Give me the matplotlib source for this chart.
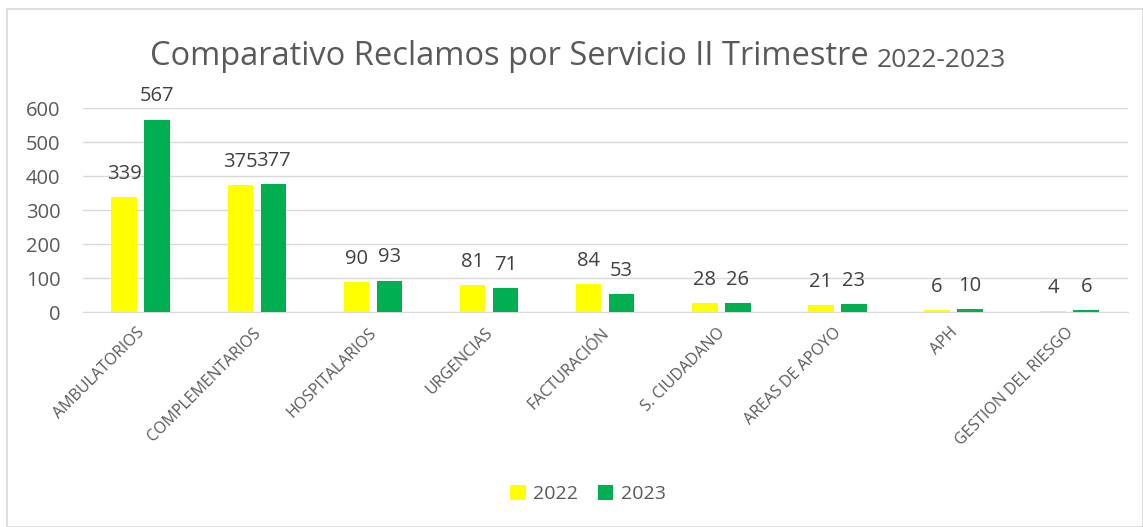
import numpy as np
import matplotlib.pyplot as plt
from matplotlib.patches import Rectangle
from matplotlib.transforms import ScaledTranslation

plt.rcParams['font.family'] = ['Open Sans', 'DejaVu Sans']

categories = ['AMBULATORIOS', 'COMPLEMENTARIOS', 'HOSPITALARIOS', 'URGENCIAS',
              'FACTURACIÓN', 'S. CIUDADANO', 'AREAS DE APOYO', 'APH',
              'GESTION DEL RIESGO']
vals_2022 = [339, 375, 90, 81, 84, 28, 21, 6, 4]
vals_2023 = [567, 377, 93, 71, 53, 26, 23, 10, 6]
series_names = ['2022', '2023']
colors = ['#FFFF00', '#00B050']
text_color = '#595959'

W, H = 1143, 527
fig = plt.figure(figsize=(W / 100, H / 100), dpi=100)
ax = fig.add_axes([82.7 / W, 1 - 312.3 / H, 1045 / W, 204 / H])

# chart border
fig.patches.append(Rectangle((7 / W, 0), (W - 7) / W, 1 - 9 / H,
                             transform=fig.transFigure, fill=False,
                             edgecolor='#d9d9d9', lw=1.2))

x = np.arange(len(categories))
w = 0.22
gap = 0.064
for i, (vals, name, c) in enumerate(zip([vals_2022, vals_2023], series_names, colors)):
    pos = x + (i - 0.5) * (w + gap)
    bars = ax.bar(pos, vals, w, color=c, label=name, zorder=3)
    for b, v in zip(bars, vals):
        ax.annotate(str(v), (b.get_x() + b.get_width() / 2, v), xytext=(0, 9.5),
                    textcoords='offset points', ha='center', va='bottom',
                    fontsize=14.5, color='#404040', annotation_clip=False)

ax.set_xlim(-0.5, len(categories) - 0.5)
ax.set_ylim(0, 600)
ax.set_yticks(range(0, 601, 100))
ax.yaxis.grid(True, color='#d9d9d9', lw=1, zorder=0)
for s in ['left', 'right', 'top']:
    ax.spines[s].set_visible(False)
ax.spines['bottom'].set_color('#d9d9d9')
ax.tick_params(axis='y', length=0, labelsize=14.5, labelcolor=text_color, pad=16)
ax.tick_params(axis='x', length=0, labelsize=11.5, labelcolor=text_color, pad=9)
ax.set_xticks(x)
ax.set_xticklabels(categories, rotation=45, ha='right', rotation_mode='anchor')
offset = ScaledTranslation(-0.04, 0, fig.dpi_scale_trans)
for lbl in ax.get_xticklabels():
    lbl.set_transform(lbl.get_transform() + offset)

# title in two sizes
t1 = fig.text(150 / W, 1 - 65 / H, 'Comparativo Reclamos por Servicio II Trimestre ',
              fontsize=23.5, color=text_color, ha='left', va='baseline')
ax.annotate('2022-2023', xy=(1, 0), xycoords=t1, fontsize=19, color=text_color,
            ha='left', va='bottom', annotation_clip=False)

fig.legend(loc='center', bbox_to_anchor=(588 / W, 1 - 494 / H), ncol=2,
           frameon=False, fontsize=14, handlelength=0.8, handleheight=0.8,
           handletextpad=0.4, columnspacing=1.0, labelcolor=text_color)

fig.savefig('out.png', dpi=100)
